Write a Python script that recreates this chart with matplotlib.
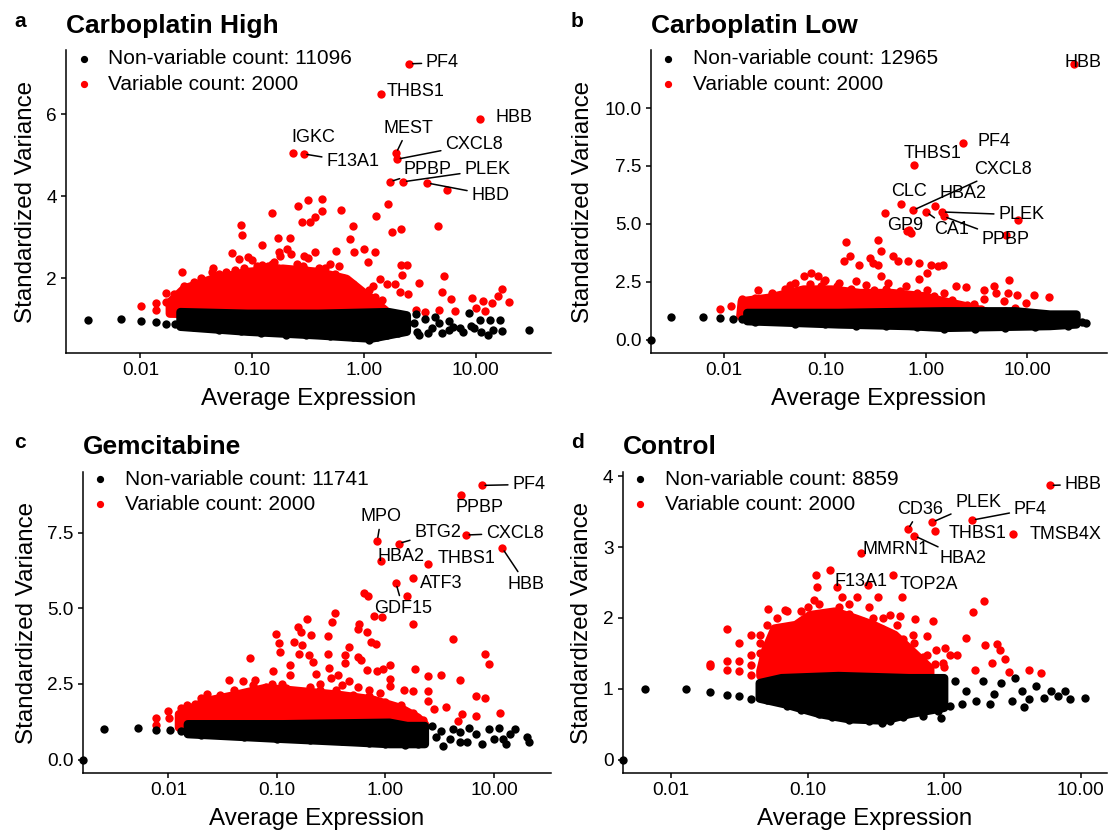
import matplotlib

matplotlib.use("Agg")

import matplotlib.pyplot as plt
import numpy as np

plt.rcParams["font.family"] = ["Liberation Sans", "DejaVu Sans"]

RED = "#FF0000"
BLACK = "#000000"

# ---------------- panel a: Carboplatin High ----------------
A_TITLE = "Carboplatin High"
A_COUNTS = (11096, 2000)
A_GENES = ["PF4", "THBS1", "HBB", "MEST", "CXCL8", "IGKC", "F13A1", "PPBP", "PLEK", "HBD"]
A_GENE_X = [2.54, 1.42, 10.9, 1.94, 1.97, 0.231, 0.288, 1.70, 2.24, 3.68]
A_GENE_Y = [7.23, 6.50, 5.89, 5.05, 4.90, 5.05, 5.03, 4.35, 4.35, 4.32]
A_RED_X = [5.51, 1.64, 1.28, 2.16, 1.77, 4.55, 0.627, 0.42, 0.314, 0.258, 0.42, 0.363, 0.281, 0.326,
           0.149, 0.0787, 0.0815, 0.792, 0.218, 0.169, 0.122, 0.753, 1.0, 0.813, 1.25, 0.562, 0.363,
           0.292, 0.203, 0.175, 0.0912, 0.0759, 1.08, 2.16, 2.42, 2.19, 5.25, 3.12, 1.40, 1.62, 1.90,
           5.01, 2.09, 2.47, 6.0, 4.66, 6.46, 9.29, 11.6, 13.9, 17.3, 15.7, 20.0, 12.0, 10.0, 2.90,
           3.48, 1.87, 1.45, 1.12, 1.25, 0.122, 0.0439, 0.0587, 0.0236, 0.0170, 0.0137, 0.0137,
           0.0102, 0.0170, 0.0212, 0.0212, 0.0245, 0.100, 0.138, 0.158, 0.200, 0.282, 0.398, 0.0851,
           0.178, 0.316, 0.224, 0.0661, 1.05, 1.35, 1.20, 0.60, 0.50, 0.0550, 0.0350, 0.0300,
           0.030, 0.035, 0.050, 0.060, 0.070, 0.085, 0.110, 0.130, 0.150, 0.170, 0.250, 0.300,
           0.450, 0.550, 0.650, 0.800, 0.900, 1.10, 1.30, 0.020, 0.045]
A_RED_Y = [4.16, 3.81, 3.51, 3.20, 3.12, 3.28, 3.67, 3.93, 3.91, 3.77, 3.63, 3.48, 3.36, 3.38,
           3.58, 3.30, 3.05, 3.28, 2.98, 2.97, 2.80, 2.96, 2.71, 2.63, 2.63, 2.66, 2.63,
           2.55, 2.71, 2.63, 2.51, 2.47, 2.39, 2.31, 2.31, 2.07, 2.04, 1.88, 1.98, 1.86, 1.86,
           1.66, 1.66, 1.62, 1.50, 1.21, 1.20, 1.52, 1.44, 1.39, 1.74, 1.55, 1.42, 1.19, 1.27, 1.21,
           1.17, 1.13, 1.46, 1.70, 1.54, 2.31, 2.15, 2.15, 2.15, 1.64, 1.40, 1.21,
           1.32, 1.41, 1.33, 1.21, 1.81, 2.45, 2.30, 2.40, 2.20, 2.30, 2.25, 2.25,
           2.55, 2.50, 2.58, 2.60, 1.35, 1.30, 1.80, 2.30, 2.35, 2.05, 2.00, 1.90,
           1.75, 1.90, 2.10, 1.95, 2.20, 2.05, 2.30, 2.20, 2.35, 2.25, 2.35, 2.20,
           2.25, 2.10, 2.00, 1.85, 1.70, 1.55, 1.35, 1.60, 2.25]
A_RED_CORE_X = [0.0183, 0.0245, 0.0439, 0.091, 0.188, 0.391, 0.70, 1.16, 1.56, 1.56, 0.188, 0.0183]
A_RED_CORE_Y = [1.41, 1.74, 1.98, 2.15, 2.23, 2.15, 1.98, 1.50, 1.21, 1.09, 1.09, 1.13]
A_BLACK_CORE_X = [0.0228, 0.091, 0.391, 1.67, 2.42, 2.42, 1.16, 0.391, 0.091, 0.0228]
A_BLACK_CORE_Y = [1.17, 1.13, 1.13, 1.17, 1.09, 0.69, 0.52, 0.60, 0.69, 0.81]
A_BLACK_X = [0.0034, 0.0067, 0.0102, 0.0137, 0.0170, 0.0205, 2.94, 3.48, 4.66, 5.79, 7.21, 8.65,
             9.64, 10.8, 12.9, 13.4, 14.4, 16.6, 17.3, 29.9, 3.0, 4.02, 5.01, 6.22, 7.74, 4.32,
             5.79, 2.79, 3.12, 3.74, 11.1, 8.97,
             0.030, 0.050, 0.080, 0.120, 0.200, 0.300, 0.500, 0.800, 1.10, 1.30, 1.60, 2.00]
A_BLACK_Y = [0.986, 1.01, 0.95, 0.93, 0.89, 0.87, 1.13, 0.99, 0.91, 0.95, 0.77, 1.14,
             0.77, 0.98, 0.60, 0.98, 0.73, 0.98, 0.70, 0.73, 0.69, 0.77, 0.65, 0.81, 0.69, 1.06,
             0.73, 0.91, 0.60, 0.65, 0.69, 0.84,
             0.80, 0.74, 0.70, 0.66, 0.62, 0.60, 0.58, 0.55, 0.50, 0.55, 0.62, 0.65]
A_ZERO = 0

# ---------------- panel b: Carboplatin Low ----------------
B_TITLE = "Carboplatin Low"
B_COUNTS = (12965, 2000)
B_GENES = ["HBB", "PF4", "THBS1", "CXCL8", "CLC", "HBA2", "PLEK", "GP9", "CA1", "PPBP"]
B_GENE_X = [29.1, 2.32, 0.746, 0.735, 0.555, 1.21, 1.43, 0.64, 0.997, 1.48]
B_GENE_Y = [11.91, 8.49, 7.53, 5.58, 5.87, 5.76, 5.51, 4.68, 5.51, 5.32]
B_RED_X = [0.393, 8.0, 6.17, 0.678, 0.16, 0.329, 0.356, 0.177, 0.153, 0.275, 0.296, 0.334, 0.472,
           0.525, 0.217, 0.662, 0.841, 1.10, 1.29, 1.46, 1.01, 0.356, 0.841, 6.58, 4.66, 1.96, 2.45,
           3.75, 4.85, 6.43, 7.85, 11.5, 16.4, 9.62, 5.83, 3.75, 2.99, 3.98, 5.93, 11.9, 7.55,
           0.0716, 0.0838, 0.061, 0.0442, 0.0214, 0.0149, 0.0117, 0.0091, 0.136, 0.203, 0.418,
           0.622, 1.01, 1.5, 0.098, 0.70,
           0.020, 0.030, 0.040, 0.050, 0.070, 0.090, 0.100, 0.130, 0.180, 0.250, 0.300, 0.400,
           0.550, 0.800, 1.20, 1.80, 2.50, 3.50, 0.015]
B_RED_Y = [5.47, 5.18, 4.53, 4.75, 4.20, 4.29, 3.81, 3.60, 3.38, 3.53, 3.31, 3.24, 3.60,
           3.38, 3.24, 3.38, 3.31, 3.24, 3.17, 3.24, 2.88, 2.73, 2.62, 2.59, 2.33, 2.33, 2.27,
           2.16, 2.01, 2.01, 1.94, 1.94, 1.83, 1.58, 1.65, 1.73, 1.55, 1.15, 1.22, 1.15, 1.37,
           2.88, 2.73, 2.73, 2.37, 2.16, 1.73, 1.44, 1.32, 2.45, 2.52, 2.45,
           2.30, 2.16, 2.01, 2.52, 4.60,
           1.80, 2.00, 2.20, 2.45, 2.40, 2.30, 2.55, 2.30, 2.20, 2.35, 2.15, 2.20,
           2.10, 2.00, 1.90, 1.70, 1.50, 1.30, 1.50]
B_RED_CORE_X = [0.0149, 0.0273, 0.061, 0.116, 0.22, 0.45, 0.935, 1.5, 2.89, 4.27, 4.27, 0.0144]
B_RED_CORE_Y = [1.65, 1.80, 2.16, 2.16, 2.01, 2.01, 1.87, 1.65, 1.37, 1.15, 1.0, 1.0]
B_BLACK_CORE_X = [0.0169, 0.136, 1.5, 7.55, 16.7, 30.6, 30.6, 16.7, 1.5, 0.67, 0.136, 0.0169]
B_BLACK_CORE_Y = [1.15, 1.15, 1.22, 1.22, 1.08, 1.08, 0.65, 0.58, 0.50, 0.58, 0.65, 0.79]
B_BLACK_X = [0.0030, 0.00618, 0.0091, 0.0122, 0.0149, 38.2,
             0.020, 0.050, 0.100, 0.200, 0.400, 0.800, 1.50, 3.00, 6.00, 12.0, 25.0, 35.0]
B_BLACK_Y = [0.98, 0.98, 0.94, 0.89, 0.89, 0.72,
             0.75, 0.68, 0.65, 0.60, 0.58, 0.52, 0.45, 0.47, 0.50, 0.52, 0.60, 0.75]
B_ZERO = 1

# ---------------- panel c: Gemcitabine ----------------
C_TITLE = "Gemcitabine"
C_COUNTS = (11741, 2000)
C_GENES = ["PF4", "PPBP", "MPO", "BTG2", "CXCL8", "HBB", "HBA2", "THBS1", "ATF3", "GDF15"]
C_GENE_X = [7.69, 5.01, 0.84, 1.32, 5.48, 11.9, 0.90, 2.45, 1.78, 1.25]
C_GENE_Y = [9.06, 8.73, 7.23, 7.14, 7.42, 6.99, 6.57, 6.46, 6.0, 5.83]
C_RED_X = [1.58, 0.635, 0.695, 0.791, 0.925, 1.80, 4.22, 8.28, 8.93, 6.76, 8.28, 11.4, 4.90, 3.24,
           2.44, 1.87, 1.09, 1.09, 1.09, 0.94, 0.84, 0.568, 0.555, 0.67, 0.738, 0.826, 0.555, 0.598,
           0.679, 0.46, 0.427, 0.427, 0.34, 0.324, 0.293, 0.298, 0.30, 0.191, 0.204, 0.157, 0.167,
           0.144, 0.171, 0.161, 0.199, 0.214, 0.133, 0.133, 0.0973, 0.104, 0.106, 0.0916, 0.0562,
           0.231, 0.367, 0.46, 0.555, 1.47, 1.78, 2.49, 2.49, 2.79, 3.63, 4.61, 5.08, 6.87, 0.0358,
           0.0484, 0.0631, 0.0229, 0.0176, 0.013, 0.0102, 0.00769, 0.00769, 0.0794, 0.112, 0.251,
           0.398, 0.708, 0.891, 0.316,
           0.010, 0.015, 0.020, 0.030, 0.040, 0.050, 0.060, 0.090, 0.120, 0.200, 0.250, 0.350,
           0.500, 0.700, 1.00, 1.40, 1.80, 2.20]
C_RED_Y = [5.39, 5.50, 5.39, 4.75, 4.72, 4.47, 3.97, 3.49, 3.16, 2.10, 2.04, 1.55, 2.64, 2.81,
           2.77, 3.0, 3.13, 2.66, 2.42, 2.99, 2.94, 4.47, 4.33, 4.22, 3.90, 3.81, 3.38, 3.30,
           2.97, 3.71, 3.44, 3.19, 4.86, 4.53, 4.08, 3.48, 3.02, 4.64, 4.12, 4.39, 4.22,
           3.90, 3.79, 3.48, 3.46, 3.24, 3.13, 2.81, 4.15, 3.84, 3.54, 2.94, 3.35,
           2.83, 2.81, 2.59, 2.39, 2.31, 2.28, 2.26, 1.93, 1.66, 1.74, 1.28, 1.50, 1.44, 2.62,
           2.59, 2.64, 2.17, 1.84, 1.71, 1.36, 1.36, 1.14, 2.40, 2.50, 2.50,
           2.45, 2.30, 2.20, 2.70,
           1.60, 1.80, 2.05, 2.15, 2.30, 2.20, 2.45, 2.50, 2.35, 2.40, 2.30, 2.30,
           2.15, 2.10, 1.90, 1.80, 1.55, 1.30]
C_RED_CORE_X = [0.0125, 0.022, 0.0372, 0.0789, 0.167, 0.354, 0.75, 1.37, 1.99, 2.31, 2.31, 0.0125]
C_RED_CORE_Y = [1.50, 1.93, 2.10, 2.37, 2.26, 2.15, 1.99, 1.71, 1.39, 1.17, 1.06, 1.06]
C_BLACK_CORE_X = [0.0151, 0.115, 1.09, 1.59, 2.31, 2.31, 1.09, 0.515, 0.115, 0.0151]
C_BLACK_CORE_Y = [1.17, 1.17, 1.22, 1.11, 1.11, 0.51, 0.51, 0.57, 0.68, 0.84]
C_BLACK_X = [0.00255, 0.00521, 0.00769, 0.0104, 0.013, 2.69, 3.24, 3.91, 3.36, 4.90, 5.69, 6.87,
             7.69, 8.93, 10.0, 11.2, 13.0, 14.0, 15.7, 20.0, 21.2, 2.9, 4.22, 4.90, 5.9, 12.1,
             0.020, 0.050, 0.100, 0.200, 0.400, 0.700, 1.00, 1.50, 2.00]
C_BLACK_Y = [1.0, 1.04, 0.98, 0.98, 0.95, 1.11, 0.95, 0.68, 0.46, 0.90, 0.57, 0.84,
             0.51, 1.0, 0.68, 1.06, 0.51, 0.84, 1.0, 0.73, 0.59, 0.73, 1.0, 0.57, 1.06, 0.68,
             0.80, 0.74, 0.69, 0.64, 0.60, 0.55, 0.50, 0.48, 0.50]
C_ZERO = 1

# ---------------- panel d: Control ----------------
D_TITLE = "Control"
D_COUNTS = (8859, 2000)
D_GENES = ["HBB", "PF4", "PLEK", "CD36", "THBS1", "TMSB4X", "HBA2", "MMRN1", "F13A1", "TOP2A"]
D_GENE_X = [5.94, 1.60, 0.815, 0.543, 0.855, 3.17, 0.604, 0.244, 0.163, 0.42]
D_GENE_Y = [3.87, 3.38, 3.35, 3.25, 3.22, 3.18, 3.16, 2.92, 2.43, 2.61]
D_RED_X = [0.146, 0.115, 0.117, 0.229, 0.275, 0.329, 0.49, 1.97, 1.62, 0.398, 0.475, 0.611, 0.824,
           0.586, 0.745, 1.44, 2.0, 2.45, 2.58, 2.80, 2.25, 2.99, 4.21, 5.13, 1.69, 0.875, 1.02,
           1.11, 1.25, 0.745, 0.975, 0.0684, 0.0516, 0.0255, 0.0383, 0.0445, 0.0315, 0.0445,
           0.0383, 0.0445, 0.0315, 0.0383, 0.0315, 0.0383, 0.0255, 0.0255, 0.0192, 0.0192, 0.0507,
           0.178, 0.20, 0.112, 0.089, 0.282, 0.355,
           0.050, 0.060, 0.070, 0.090, 0.100, 0.120, 0.140, 0.170, 0.200, 0.250, 0.300, 0.350,
           0.450, 0.500, 0.600, 0.700, 0.850, 1.00]
D_RED_Y = [2.68, 2.60, 2.43, 2.29, 2.46, 2.29, 2.29, 2.24, 2.08, 2.04, 2.02, 1.98, 1.95,
           1.76, 1.74, 1.72, 1.62, 1.63, 1.54, 1.42, 1.36, 1.23, 1.26, 1.22, 1.27, 1.55, 1.58,
           1.48, 1.47, 1.48, 1.36, 2.11, 2.12, 1.85, 1.76, 1.76, 1.64, 1.64,
           1.48, 1.50, 1.39, 1.33, 1.25, 1.19, 1.39, 1.27, 1.35, 1.32, 1.25,
           2.30, 2.20, 2.25, 2.10, 2.15, 2.00,
           1.90, 2.00, 2.10, 1.95, 2.15, 2.20, 2.05, 2.15, 2.05, 1.95, 2.00, 1.85,
           1.90, 1.70, 1.65, 1.45, 1.35, 1.30]
D_RED_CORE_X = [0.045, 0.049, 0.0571, 0.0818, 0.104, 0.158, 0.226, 0.304, 0.435, 0.622, 0.791,
                0.791, 0.045]
D_RED_CORE_Y = [1.25, 1.55, 1.85, 1.90, 2.04, 2.09, 1.99, 1.90, 1.76, 1.48, 1.29, 1.18, 1.18]
D_BLACK_CORE_X = [0.0445, 0.0644, 0.168, 0.552, 1.0, 1.0, 0.552, 0.364, 0.2, 0.124, 0.0684, 0.0445]
D_BLACK_CORE_Y = [1.08, 1.15, 1.18, 1.15, 1.15, 0.73, 0.64, 0.55, 0.57, 0.64, 0.78, 0.86]
D_BLACK_X = [0.0064, 0.0128, 0.0192, 0.0255, 0.0315, 0.0383, 1.2, 1.44, 1.72, 1.94, 2.32, 2.61,
             3.12, 3.31, 3.73, 3.85, 4.74, 5.34, 6.01, 6.77, 7.64, 8.36, 10.8, 1.35, 2.18, 4.21,
             0.353, 0.946,
             0.050, 0.070, 0.090, 0.120, 0.150, 0.200, 0.280, 0.400, 0.500, 0.700, 0.900, 1.10]
D_BLACK_Y = [1.0, 1.0, 0.96, 0.91, 0.90, 0.86, 1.11, 0.97, 0.83, 1.11, 0.92, 1.08,
             0.83, 1.15, 0.97, 0.74, 1.04, 0.87, 0.97, 0.90, 0.97, 0.85, 0.87, 0.78, 0.78, 0.85,
             0.52, 0.59,
             0.84, 0.76, 0.70, 0.64, 0.60, 0.56, 0.55, 0.55, 0.60, 0.62, 0.68, 0.75]
D_ZERO = 1

# ---------------- layout (figure pixels, label offsets in pixels) ----------------
FIG_W, FIG_H = 1109, 832
AXES_PX = {
    "a": (66.0, 50.0, 551.0, 353.3),
    "b": (650.7, 50.0, 1107.0, 353.3),
    "c": (82.7, 471.7, 550.7, 773.3),
    "d": (622.7, 471.7, 1107.3, 773.3),
}
TITLE_BASELINE = {"a": 33.3, "b": 33.3, "c": 453.7, "d": 453.7}
TAG_POS = {"a": (14, 26.7), "b": (571, 26.7), "c": (14, 447.7), "d": (571, 447.7)}
YLABEL_X = {"a": 26.5, "b": 582.6, "c": 26.9, "d": 582.0}
LEGEND_DY = {"a": (9, 34), "b": (9, 34), "c": (7.5, 32.5), "d": (7.5, 32.5)}
Y_TICKS = {
    "a": ([2, 4, 6], ["2", "4", "6"]),
    "b": ([0, 2.5, 5, 7.5, 10], ["0.0", "2.5", "5.0", "7.5", "10.0"]),
    "c": ([0, 2.5, 5, 7.5], ["0.0", "2.5", "5.0", "7.5"]),
    "d": ([0, 1, 2, 3, 4], ["0", "1", "2", "3", "4"]),
}
# (dx, dy, draw_segment) per labelled gene, same order as *_GENES
LABEL_OFFSETS = {
    "a": [(33, 1, 1), (35, 2, 0), (34, 1, 0), (12, 25, 1), (77, 15, 1), (20, 16, 0),
          (49, -8, 1), (38, 12, 1), (84, 12, 1), (63, -12, 1)],
    "b": [(9, 1, 0), (31, 1, 0), (19, 12, 0), (90, 41, 1), (8, 12, 0), (28, 13, 0),
          (79, -3, 1), (-2, 6, 0), (25, -18, 1), (62, -23, 1)],
    "c": [(47, 1, 1), (18, -12, 0), (4, 24, 1), (39, 11, 1), (49, 2, 1), (24, -36, 1),
          (20, 4, 0), (39, 6, 0), (29, -5, 0), (7, -25, 1)],
    "d": [(33, 1, 1), (58, 11, 1), (46, 20, 1), (12, 20, 1), (43, -2, 0), (53, 0, 0),
          (49, -23, 1), (35, 3, 0), (24, 6, 0), (36, -10, 0)],
}

PANELS = {
    "a": dict(title=A_TITLE, counts=A_COUNTS, genes=A_GENES, gx=A_GENE_X, gy=A_GENE_Y,
              rx=A_RED_X, ry=A_RED_Y, rcx=A_RED_CORE_X, rcy=A_RED_CORE_Y,
              bx=A_BLACK_X, by=A_BLACK_Y, bcx=A_BLACK_CORE_X, bcy=A_BLACK_CORE_Y, zero=A_ZERO),
    "b": dict(title=B_TITLE, counts=B_COUNTS, genes=B_GENES, gx=B_GENE_X, gy=B_GENE_Y,
              rx=B_RED_X, ry=B_RED_Y, rcx=B_RED_CORE_X, rcy=B_RED_CORE_Y,
              bx=B_BLACK_X, by=B_BLACK_Y, bcx=B_BLACK_CORE_X, bcy=B_BLACK_CORE_Y, zero=B_ZERO),
    "c": dict(title=C_TITLE, counts=C_COUNTS, genes=C_GENES, gx=C_GENE_X, gy=C_GENE_Y,
              rx=C_RED_X, ry=C_RED_Y, rcx=C_RED_CORE_X, rcy=C_RED_CORE_Y,
              bx=C_BLACK_X, by=C_BLACK_Y, bcx=C_BLACK_CORE_X, bcy=C_BLACK_CORE_Y, zero=C_ZERO),
    "d": dict(title=D_TITLE, counts=D_COUNTS, genes=D_GENES, gx=D_GENE_X, gy=D_GENE_Y,
              rx=D_RED_X, ry=D_RED_Y, rcx=D_RED_CORE_X, rcy=D_RED_CORE_Y,
              bx=D_BLACK_X, by=D_BLACK_Y, bcx=D_BLACK_CORE_X, bcy=D_BLACK_CORE_Y, zero=D_ZERO),
}

POINT_S = 36          # scatter size, pt^2
POINT_D = 6.0         # point diameter, pt (used as polygon edge width)
LINE_W = 1.1


def padded_limits(p):
    xs = np.log10(np.concatenate([p["gx"], p["rx"], p["rcx"], p["bx"], p["bcx"]]))
    ys = np.concatenate([p["gy"], p["ry"], p["rcy"], p["by"], p["bcy"], [0] * p["zero"]])
    dx = (xs.max() - xs.min()) * 0.05
    dy = (ys.max() - ys.min()) * 0.05
    return (10 ** (xs.min() - dx), 10 ** (xs.max() + dx)), (ys.min() - dy, ys.max() + dy)


def fx(px):
    return px / FIG_W


def fy(py):
    return 1 - py / FIG_H


fig = plt.figure(figsize=(FIG_W / 100, FIG_H / 100), dpi=100, facecolor="white")

for key, p in PANELS.items():
    left, top, right, bottom = AXES_PX[key]
    ax = fig.add_axes([fx(left), fy(bottom), (right - left) / FIG_W, (bottom - top) / FIG_H])
    ax.set_xscale("log")

    ax.fill(p["rcx"], p["rcy"], facecolor=RED, edgecolor=RED, lw=POINT_D, joinstyle="round", zorder=1)
    ax.scatter(p["rx"], p["ry"], s=POINT_S, c=RED, lw=0, zorder=2)
    ax.scatter(p["gx"], p["gy"], s=POINT_S, c=RED, lw=0, zorder=2)
    ax.fill(p["bcx"], p["bcy"], facecolor=BLACK, edgecolor=BLACK, lw=POINT_D, joinstyle="round", zorder=3)
    ax.scatter(p["bx"], p["by"], s=POINT_S, c=BLACK, lw=0, zorder=3)

    xlim, ylim = padded_limits(p)
    ax.set_xlim(xlim)
    ax.set_ylim(ylim)
    if p["zero"]:
        # genes with zero mean expression sit on the left border (log scale -> -Inf)
        ax.scatter([xlim[0]], [0], s=POINT_S, c=BLACK, lw=0, zorder=4, clip_on=False)

    for gene, gx, gy, (dx, dy, seg) in zip(p["genes"], p["gx"], p["gy"], LABEL_OFFSETS[key]):
        arrow = dict(arrowstyle="-", lw=1.1, color=BLACK, shrinkA=1, shrinkB=2.5) if seg else None
        ax.annotate(gene, xy=(gx, gy), xytext=(dx, dy), textcoords="offset pixels",
                    ha="center", va="center", fontsize=13, color=BLACK,
                    arrowprops=arrow, zorder=5)

    ax.set_xticks([0.01, 0.1, 1, 10])
    ax.set_xticklabels(["0.01", "0.10", "1.00", "10.00"])
    ax.xaxis.set_minor_locator(matplotlib.ticker.NullLocator())
    ticks, labels = Y_TICKS[key]
    ax.set_yticks(ticks)
    ax.set_yticklabels(labels)
    ax.tick_params(length=3.6, width=LINE_W, labelsize=13.7, colors=BLACK, pad=3)
    for side in ("top", "right"):
        ax.spines[side].set_visible(False)
    for side in ("left", "bottom"):
        ax.spines[side].set_linewidth(LINE_W)

    h_px = bottom - top
    w_px = right - left
    ax.set_xlabel("Average Expression", fontsize=17.4)
    ax.xaxis.set_label_coords(0.5, -45.7 / h_px)
    ax.xaxis.label.set_va("center")
    ax.set_ylabel("Standardized Variance", fontsize=17.4)
    ax.yaxis.set_label_coords((YLABEL_X[key] - left) / w_px, 0.5)
    ax.yaxis.label.set_va("center")

    # legend drawn by hand: dot + text at fixed pixel offsets from the panel corner
    entries = [(f"Non-variable count: {p['counts'][0]}", BLACK), (f"Variable count: {p['counts'][1]}", RED)]
    for (text, color), dy in zip(entries, LEGEND_DY[key]):
        fig.lines.append(plt.Line2D([fx(left + 17.5)], [fy(top + dy)], marker="o", ms=4.2,
                                    color=color, lw=0, transform=fig.transFigure))
        fig.text(fx(left + 42), fy(top + dy), text, fontsize=15, va="center", ha="left")

    fig.text(fx(left), fy(TITLE_BASELINE[key]), p["title"], fontsize=19, fontweight="bold",
             va="baseline", ha="left")
    tx, ty = TAG_POS[key]
    fig.text(fx(tx), fy(ty), key, fontsize=15, fontweight="bold", va="baseline", ha="left")

fig.savefig("out.png", dpi=100, facecolor="white")
